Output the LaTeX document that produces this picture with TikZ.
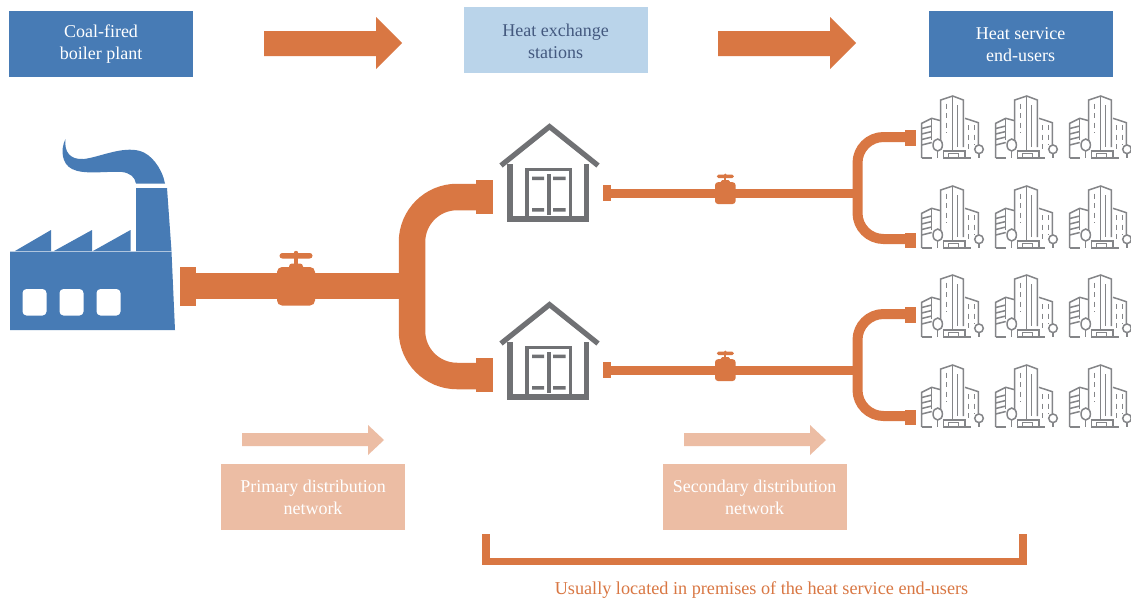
\documentclass[tikz,border=0pt]{standalone}
\usepackage{fontspec}
\setmainfont{Liberation Serif}
\definecolor{blu}{HTML}{477BB5}
\definecolor{lblu}{HTML}{BAD4EA}
\definecolor{navy}{HTML}{44597F}
\definecolor{org}{HTML}{D97743}
\definecolor{lorg}{HTML}{ECBDA4}
\definecolor{gry}{HTML}{707174}
\definecolor{bgry}{HTML}{848588}
\tikzset{
  box/.style={minimum width=184pt,minimum height=66pt,inner sep=0pt,align=center,font=\fontsize{18pt}{22pt}\selectfont},
  house line/.style={draw=gry,line width=5.2pt},
  door line/.style={draw=gry,line width=3.4pt},
  bline/.style={draw=bgry,line width=1.5pt},
  bdash/.style={draw=bgry,line width=1.5pt,dash pattern=on 5pt off 4.5pt},
  house/.pic={
    \draw[house line,miter limit=10] (-48.5,41.5) -- (0,2.6) -- (48.5,41.5);
    \draw[house line] (-39.6,40) -- (-39.6,95) -- (37.3,95) -- (37.3,40);
    \draw[door line] (-22.5,93) -- (-22.5,45.5) -- (20.7,45.5) -- (20.7,93);
    \fill[gry] (-2.2,50) rectangle (1.8,91);
    \fill[gry] (-17.5,52.5) rectangle (-5.5,56) (3.5,52.5) rectangle (16,56);
    \fill[gry] (-17.5,84) rectangle (-5.5,87.5) (3.5,84) rectangle (16,87.5);
  },
  building/.pic={
    \draw[bline] (19.7,44) -- (19.7,4) -- (31.7,0) -- (42.3,4) -- (42.3,51);
    \draw[bline] (31.7,0) -- (31.7,55);
    \draw[bline] (36.7,9) -- (36.7,51);
    \draw[bdash] (25.7,7.5) -- (25.7,37);
    \draw[bline] (19.7,24.7) -- (10.7,22.3) -- (0.7,27.3) -- (0.7,62);
    \draw[bline] (0.7,32.5) -- (10.7,30) (0.7,38) -- (10.7,35.5) (0.7,43.5) -- (10.7,41) (0.7,49) -- (10.7,46.5);
    \draw[bline] (10.7,22.3) -- (10.7,44);
    \draw[bline] (44,22.3) -- (57.3,26.7) -- (57.3,49);
    \draw[bdash] (47.3,29) -- (47.3,54) (53.3,29) -- (53.3,49);
    \draw[bline] (16.7,49) ellipse (4.7pt and 6pt);
    \draw[bline] (16.7,55) -- (16.7,62);
    \draw[bline] (58,53.3) circle (4.3pt);
    \draw[bline] (58,57.6) -- (58,62);
    \draw[bline] (22.3,62) -- (22.3,55) -- (44,55) -- (44,62);
    \draw[bline] (27.3,62) -- (27.3,57.3) -- (37.3,57.3) -- (37.3,62);
    \draw[bline] (0.7,62) -- (10.7,62) (22.3,62) -- (50,62);
  },
  valve/.pic={
    \fill[org,rounded corners=5pt] (-19,-19) rectangle (19,19.5);
    \fill[org,rounded corners=3pt] (-7,-22.5) rectangle (7,-15);
    \fill[org] (-1.7,-31) rectangle (1.7,-20);
    \fill[org] (0,-33) circle (2.2pt);
    \fill[org,rounded corners=2.8pt] (-16.5,-33) rectangle (16.5,-27.5);
  },
  small valve/.pic={
    \fill[org,rounded corners=3pt] (-10.3,-10.8) rectangle (10.3,11);
    \fill[org,rounded corners=1.5pt] (-4.5,-13) rectangle (4.5,-8);
    \fill[org] (-1,-18) rectangle (1,-12);
    \fill[org] (0,-18.3) circle (1.2pt);
    \fill[org,rounded corners=1.5pt] (-8.5,-18.3) rectangle (8.5,-15);
  }
}
\begin{document}
\begin{tikzpicture}[x=1pt,y=-1pt]
\useasboundingbox[fill=white] (0,0) rectangle (1131,600);

\fill[blu] (9,11) rectangle (193,77);
\fill[lblu] (464,7) rectangle (648,73);
\fill[blu] (929,11) rectangle (1113,77);
\node[box,text=white] (boiler) at (101,44.5) {Coal-fired\\boiler plant};
\node[box,text=navy] (station) at (555.5,41) {Heat exchange\\stations};
\node[box,text=white] (users) at (1020.5,44.5) {Heat service\\end-users};

\fill[org] (264,31) -- (376,31) -- (376,17) -- (402,43) -- (376,69) -- (376,56) -- (264,56) -- cycle;
\fill[org] (718,31) -- (830,31) -- (830,17) -- (856,43) -- (830,69) -- (830,56) -- (718,56) -- cycle;

\fill[blu] (10,251.5) -- (171.5,251.5) -- (175,330) -- (10,330) -- cycle;
\fill[blu] (15,251) -- (51,230) -- (51,251) -- cycle;
\fill[blu] (54,251) -- (92,230) -- (92,251) -- cycle;
\fill[blu] (93,251) -- (130.5,230) -- (130.5,251) -- cycle;
\fill[blu] (136,188) -- (167,188) -- (171.5,251) -- (136,251) -- cycle;
\fill[blu] (165,183.5) .. controls (162,168) and (151,154) .. (140,151)
  .. controls (122,146) and (100,157) .. (84,159)
  .. controls (70,160) and (64,152) .. (65.5,139)
  .. controls (60,150) and (62,164) .. (72,169)
  .. controls (84,175) and (105,171) .. (122,172)
  .. controls (130,173) and (135,177) .. (136,183.5) -- cycle;
\fill[white,rounded corners=4pt] (22.5,289) rectangle (46.5,315.5);
\fill[white,rounded corners=4pt] (59.5,289) rectangle (83.5,315.5);
\fill[white,rounded corners=4pt] (96.5,289) rectangle (120.5,315.5);

\fill[org] (180,267) rectangle (196,305.5);
\fill[org] (196,273) rectangle (405,299);
\pic at (296,286) {valve};
\draw[org,line width=26.5pt,rounded corners=45pt] (480,197) -- (412,197) -- (412,376) -- (480,376);
\fill[org] (476,180) rectangle (493,214);
\fill[org] (476,358.3) rectangle (493,392.3);

\pic at (549.5,124) {house};
\pic at (549.5,302) {house};

\foreach \dy in {0,177}{
  \begin{scope}[yshift=-\dy pt]
    \fill[org] (603,185) rectangle (611,201);
    \fill[org] (611,188.5) rectangle (855,198);
    \pic at (725.3,193) {small valve};
    \draw[org,line width=10pt,rounded corners=26pt] (908,137) -- (857.5,137) -- (857.5,239) -- (908,239);
    \fill[org] (905,130) rectangle (916,145.5);
    \fill[org] (905,232.5) rectangle (916,247.5);
  \end{scope}
}

\foreach \bx in {921,995,1069}{
  \foreach \by in {96,186,275,365}{
    \pic at (\bx,\by) {building};
  }
}

\fill[lorg] (242,433) -- (368,433) -- (368,425) -- (384,440) -- (368,455) -- (368,446) -- (242,446) -- cycle;
\fill[lorg] (684,433) -- (810,433) -- (810,425) -- (826,440) -- (810,455) -- (810,446) -- (684,446) -- cycle;
\fill[lorg] (221,464) rectangle (405,530);
\fill[lorg] (663,464) rectangle (847,530);
\node[box,text=white] (primary) at (313,497.5) {Primary distribution\\network};
\node[box,text=white] (secondary) at (754.5,497.5) {Secondary distribution\\network};

\draw[org,line width=7.7pt] (486.2,534.3) -- (486.2,561.4) -- (1022.9,561.4) -- (1022.9,534.3);
\node[text=org,inner sep=0pt,font=\fontsize{18.2pt}{20pt}\selectfont] (note) at (761.5,590.5) {Usually located in premises of the heat service end-users};
\end{tikzpicture}
\end{document}
